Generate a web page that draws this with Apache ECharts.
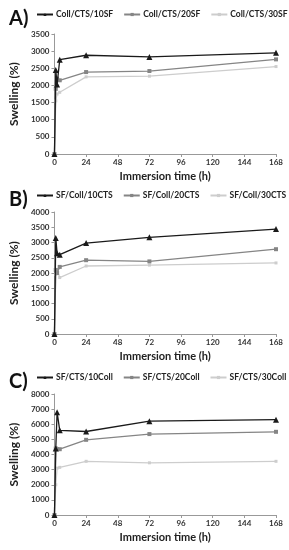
<!DOCTYPE html>
<html>
<head>
<meta charset="utf-8">
<script src="https://cdn.jsdelivr.net/npm/echarts@6/dist/echarts.min.js"></script>
<style>html,body{margin:0;padding:0;background:#fff;}#c{width:289px;height:550px;}</style>
</head>
<body>
<div id="c"></div>
<script>
var times = [0, 1, 2, 4, 24, 72, 168];
var xTicks = [0, 24, 48, 72, 96, 120, 144, 168];
var panelLabels = ['A)', 'B)', 'C)'];
var namesA = ['Coll/CTS/10SF', 'Coll/CTS/20SF', 'Coll/CTS/30SF'];
var namesB = ['SF/Coll/10CTS', 'SF/Coll/20CTS', 'SF/Coll/30CTS'];
var namesC = ['SF/CTS/10Coll', 'SF/CTS/20Coll', 'SF/CTS/30Coll'];
var a1 = [0, 2450, 2030, 2750, 2880, 2830, 2950];
var a2 = [0, 1900, 2200, 2150, 2390, 2420, 2760];
var a3 = [0, 1550, 1750, 1800, 2250, 2270, 2550];
var b1 = [0, 3150, 2650, 2600, 2980, 3170, 3440];
var b2 = [0, 2100, 2000, 2200, 2420, 2380, 2780];
var b3 = [0, 1950, 2100, 1850, 2230, 2260, 2330];
var c1 = [0, 4400, 6800, 5600, 5520, 6200, 6300];
var c2 = [0, 4400, 4350, 4350, 4970, 5350, 5500];
var c3 = [0, 2000, 3100, 3150, 3550, 3450, 3550];
var yMax = [3500, 4000, 8000];
var yStep = [500, 500, 1000];

var FONT = 'Lato';
var colors = ['#1a1a1a', '#858585', '#cdcdcd'];
var symbols = ['triangle', 'rect', 'rect'];
var symSizes = [6, 4, 3];
var tops = [34, 212, 394];
var heights = [120, 122, 121];
var legendTops = [10, 191, 373];
var names = [namesA, namesB, namesC];
var data = [[a1, a2, a3], [b1, b2, b3], [c1, c2, c3]];

function pairs(vals) { return times.map(function (t, i) { return [t, vals[i]]; }); }

var option = {
  animation: false,
  title: [], legend: [], grid: [], xAxis: [], yAxis: [], series: []
};
for (var p = 0; p < 3; p++) {
  option.title.push({
    text: panelLabels[p], left: 4, top: legendTops[p] - 6,
    textStyle: { fontFamily: FONT, fontWeight: 'bold', fontSize: 20, color: '#111' }
  });
  option.legend.push({
    data: names[p], left: 36, top: legendTops[p], width: 260, itemGap: 10, itemWidth: 16, itemHeight: 4,
    padding: 0,
    textStyle: { fontFamily: FONT, fontWeight: 'bold', fontSize: 8.5, color: '#222', padding: [0, 0, 0, -2] }
  });
  option.grid.push({ left: 53, right: 13, top: tops[p], height: heights[p] });
  option.xAxis.push({
    type: 'value', gridIndex: p, min: 0, max: 168, interval: 24,
    name: 'Immersion time (h)', nameLocation: 'middle', nameGap: 17,
    nameTextStyle: { fontFamily: FONT, fontWeight: 'bold', fontSize: 11, color: '#222' },
    axisLine: { show: true, lineStyle: { color: '#999', width: 1 } },
    axisTick: { show: true, length: 3, lineStyle: { color: '#999' } },
    axisLabel: { fontFamily: FONT, fontWeight: 'bold', fontSize: 8, color: '#333', margin: 4,
      customValues: xTicks },
    splitLine: { show: false }
  });
  option.yAxis.push({
    type: 'value', gridIndex: p, min: 0, max: yMax[p], interval: yStep[p],
    name: 'Swelling (%)', nameLocation: 'middle', nameGap: 31,
    nameTextStyle: { fontFamily: FONT, fontWeight: 'bold', fontSize: 12, color: '#222' },
    axisLine: { show: true, lineStyle: { color: '#999', width: 1 } },
    axisTick: { show: true, length: 3, lineStyle: { color: '#999' } },
    axisLabel: { fontFamily: FONT, fontWeight: 'bold', fontSize: 8, color: '#333', margin: 5,
      formatter: function (v) { return String(v); } },
    splitLine: { show: false }
  });
  for (var s = 0; s < 3; s++) {
    option.series.push({
      type: 'line', name: names[p][s], xAxisIndex: p, yAxisIndex: p,
      data: pairs(data[p][s]),
      symbol: symbols[s], symbolSize: symSizes[s], showSymbol: true,
      lineStyle: { color: colors[s], width: 1.3 },
      itemStyle: { color: colors[s] },
      z: 10 - s
    });
  }
}
var chart = echarts.init(document.getElementById('c'));
chart.setOption(option);
</script>
</body>
</html>
